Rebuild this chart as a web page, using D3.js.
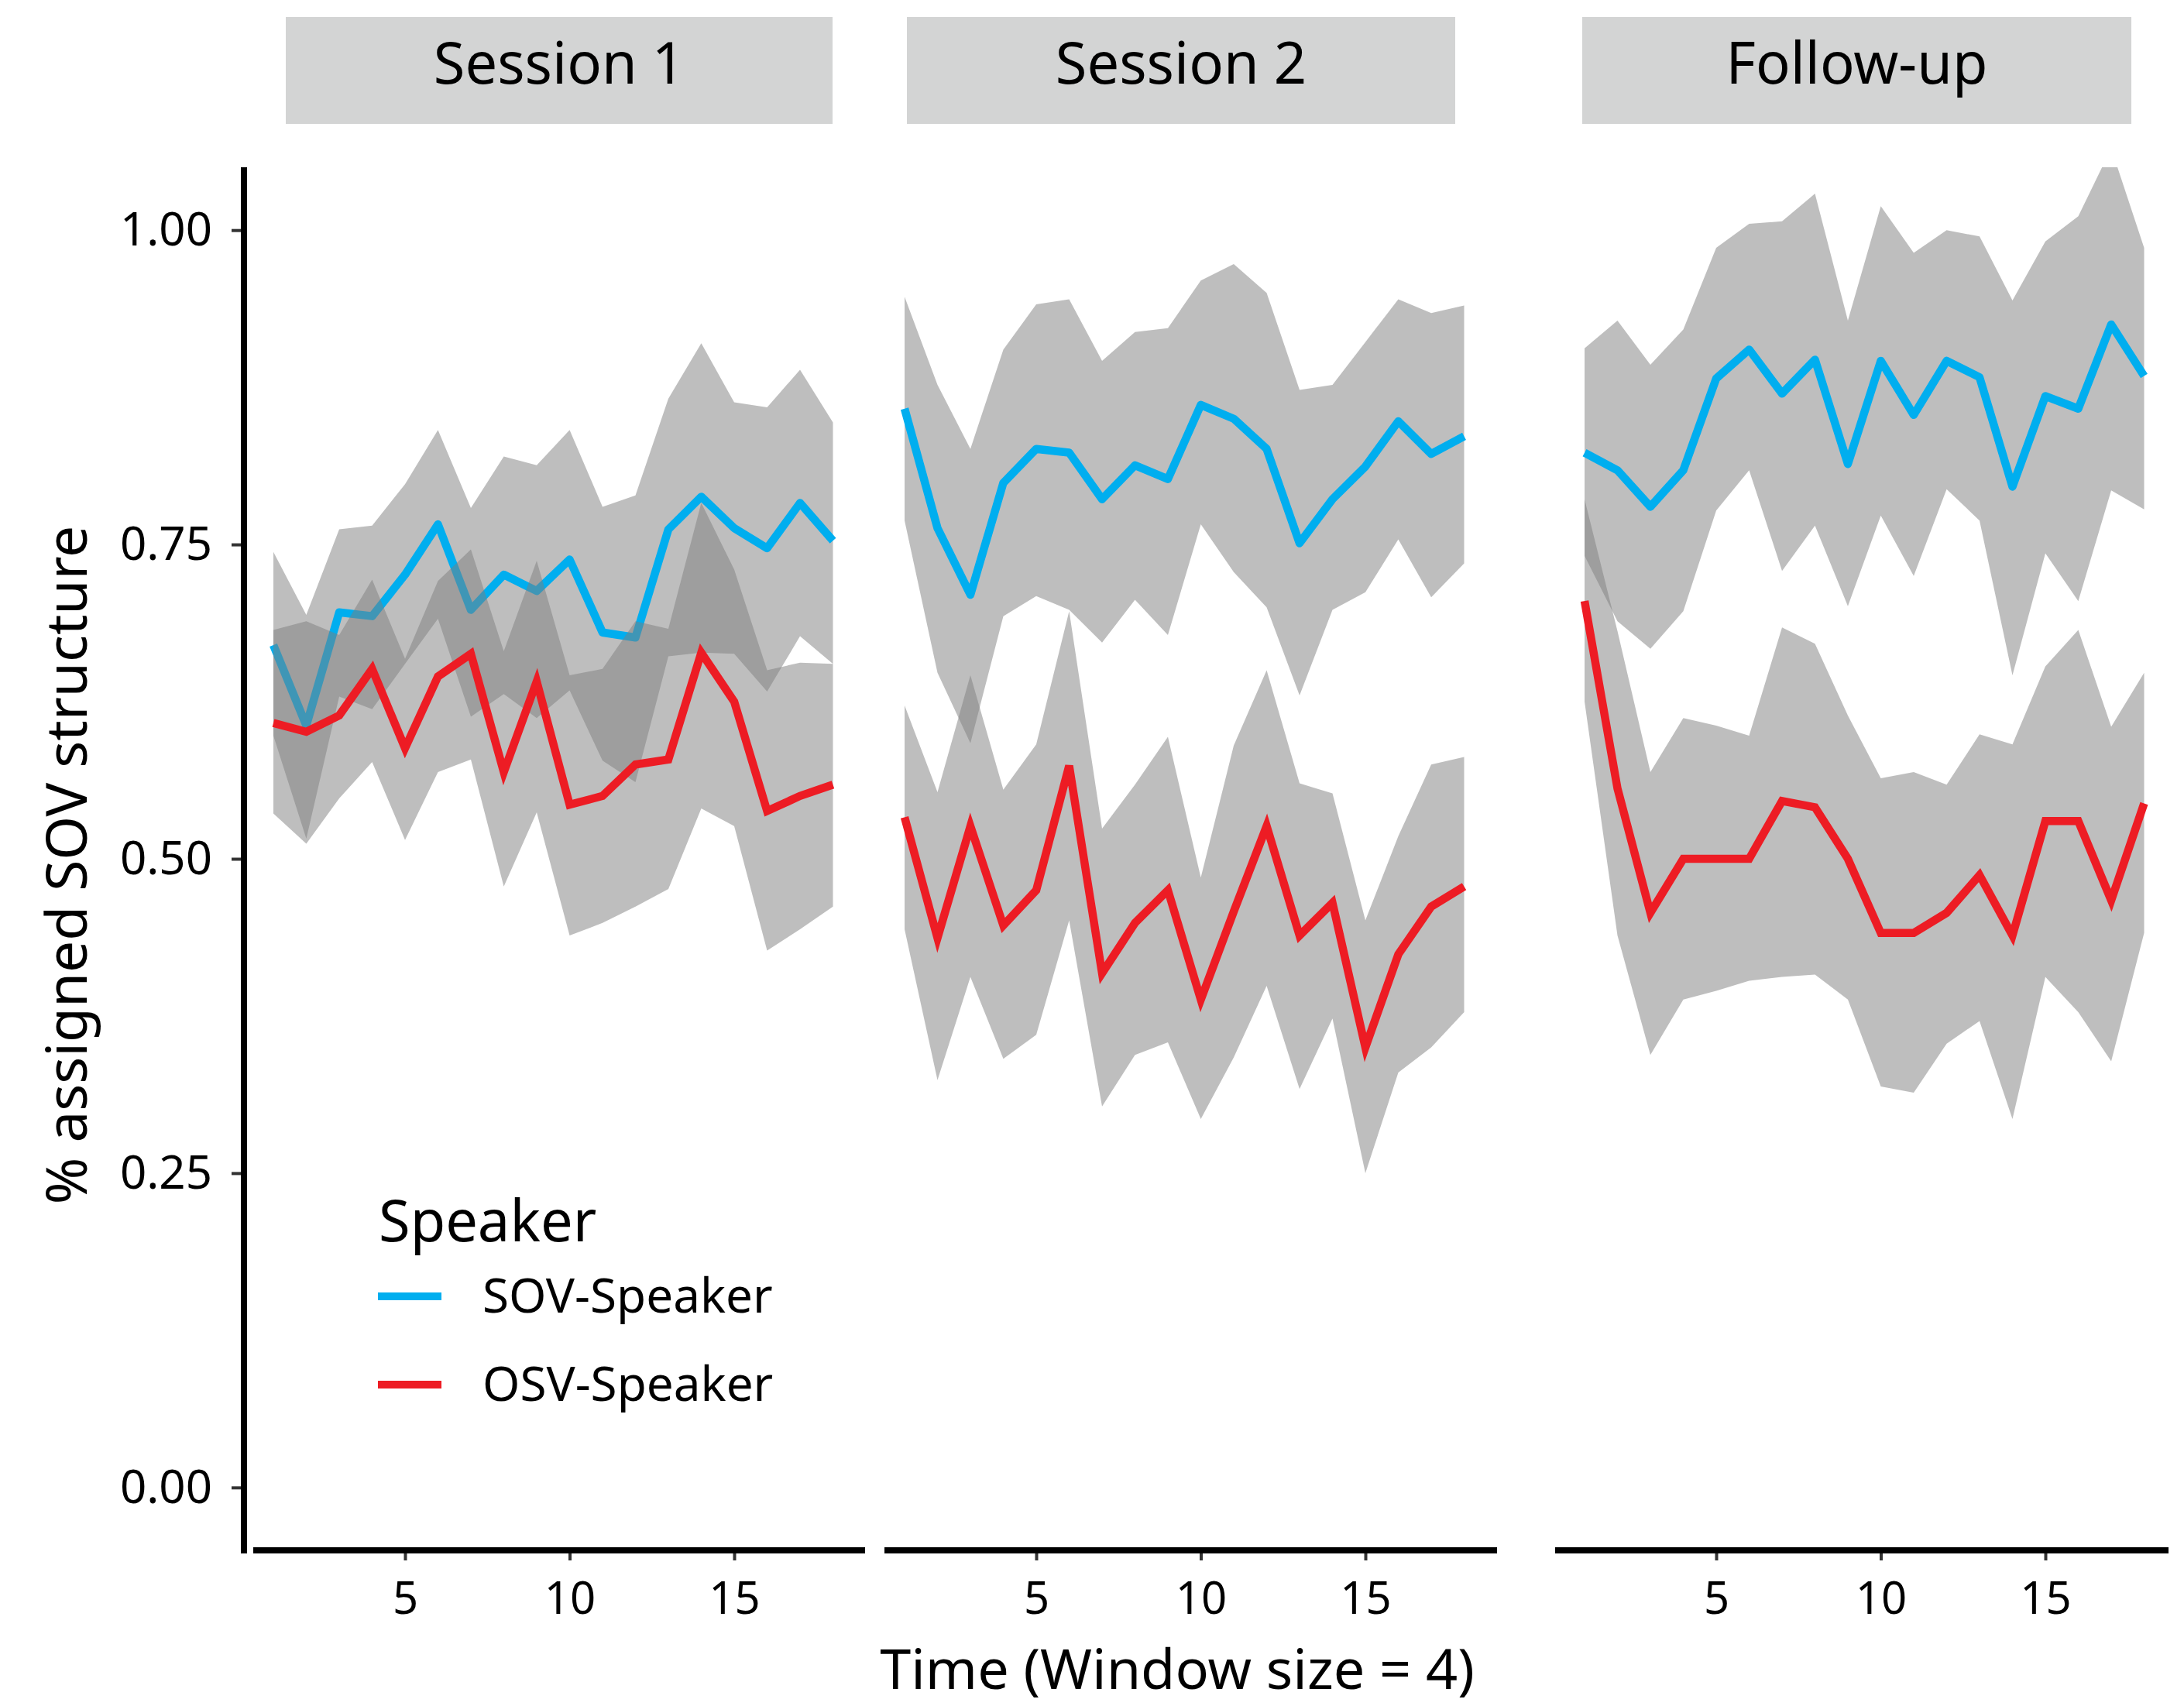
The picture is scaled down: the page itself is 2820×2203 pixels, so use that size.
<!DOCTYPE html>
<meta charset="utf-8">
<head>
  <title>% assigned SOV structure</title>
</head>
<style>
  body { margin: 0; background: #fff; }
  text { font-family: "Noto Sans", sans-serif; }
</style>

<!-- Load d3.js -->
<script src="https://d3js.org/d3.v7.min.js"></script>

<div id="chart"></div>

<script>
  // time windows
  var time = [1, 2, 3, 4, 5, 6, 7, 8, 9, 10, 11, 12, 13, 14, 15, 16, 17, 18];
  var sessions = ["Session 1", "Session 2", "Follow-up"];
  var speakers = ["SOV-Speaker", "OSV-Speaker"];
  var yTicks = [0, 0.25, 0.5, 0.75, 1];
  var xTicks = [5, 10, 15];

  // Session 1
  var s1SovMean = [0.670, 0.606, 0.696, 0.693, 0.726, 0.766, 0.698, 0.726, 0.713, 0.738, 0.680, 0.676, 0.762, 0.788, 0.763, 0.747, 0.783, 0.753];
  var s1SovLow  = [0.598, 0.516, 0.629, 0.619, 0.655, 0.691, 0.613, 0.631, 0.612, 0.634, 0.578, 0.561, 0.661, 0.664, 0.663, 0.633, 0.677, 0.655];
  var s1SovHigh = [0.744, 0.694, 0.762, 0.765, 0.798, 0.841, 0.779, 0.820, 0.813, 0.841, 0.780, 0.789, 0.866, 0.910, 0.863, 0.859, 0.889, 0.847];
  var s1OsvMean = [0.608, 0.601, 0.614, 0.651, 0.588, 0.645, 0.663, 0.569, 0.641, 0.543, 0.550, 0.575, 0.579, 0.664, 0.625, 0.538, 0.550, 0.559];
  var s1OsvLow  = [0.536, 0.512, 0.548, 0.577, 0.515, 0.569, 0.579, 0.478, 0.537, 0.439, 0.449, 0.462, 0.476, 0.540, 0.526, 0.427, 0.444, 0.462];
  var s1OsvHigh = [0.682, 0.689, 0.678, 0.722, 0.659, 0.721, 0.746, 0.665, 0.737, 0.646, 0.651, 0.689, 0.683, 0.783, 0.730, 0.650, 0.656, 0.655];

  // Session 2
  var s2SovMean = [0.858, 0.763, 0.710, 0.799, 0.826, 0.823, 0.786, 0.813, 0.802, 0.861, 0.850, 0.826, 0.751, 0.786, 0.812, 0.848, 0.822, 0.836];
  var s2SovLow  = [0.769, 0.648, 0.592, 0.693, 0.709, 0.698, 0.672, 0.706, 0.678, 0.766, 0.728, 0.700, 0.630, 0.698, 0.712, 0.754, 0.708, 0.735];
  var s2SovHigh = [0.947, 0.877, 0.826, 0.905, 0.941, 0.945, 0.896, 0.919, 0.922, 0.960, 0.973, 0.950, 0.873, 0.877, 0.911, 0.945, 0.934, 0.940];
  var s2OsvMean = [0.533, 0.437, 0.526, 0.447, 0.475, 0.574, 0.409, 0.449, 0.475, 0.388, 0.458, 0.526, 0.439, 0.465, 0.350, 0.424, 0.462, 0.478];
  var s2OsvLow  = [0.444, 0.324, 0.406, 0.341, 0.360, 0.451, 0.303, 0.344, 0.354, 0.293, 0.342, 0.399, 0.317, 0.373, 0.250, 0.330, 0.350, 0.378];
  var s2OsvHigh = [0.622, 0.553, 0.646, 0.555, 0.591, 0.697, 0.524, 0.559, 0.597, 0.485, 0.590, 0.650, 0.560, 0.552, 0.451, 0.518, 0.575, 0.581];

  // Follow-up
  var s3SovMean = [0.823, 0.809, 0.780, 0.809, 0.882, 0.905, 0.870, 0.897, 0.814, 0.896, 0.853, 0.896, 0.883, 0.796, 0.868, 0.858, 0.925, 0.884];
  var s3SovLow  = [0.741, 0.689, 0.667, 0.697, 0.777, 0.809, 0.729, 0.765, 0.701, 0.773, 0.725, 0.794, 0.769, 0.646, 0.743, 0.705, 0.793, 0.778];
  var s3SovHigh = [0.906, 0.928, 0.893, 0.921, 0.986, 1.005, 1.007, 1.029, 0.928, 1.019, 0.982, 1.000, 0.995, 0.944, 0.991, 1.011, 1.065, 0.986];
  var s3OsvMean = [0.705, 0.556, 0.457, 0.500, 0.500, 0.500, 0.546, 0.541, 0.500, 0.441, 0.441, 0.457, 0.487, 0.439, 0.530, 0.530, 0.467, 0.544];
  var s3OsvLow  = [0.625, 0.439, 0.344, 0.388, 0.395, 0.403, 0.406, 0.408, 0.388, 0.319, 0.314, 0.353, 0.371, 0.293, 0.406, 0.378, 0.339, 0.441];
  var s3OsvHigh = [0.786, 0.681, 0.569, 0.612, 0.606, 0.598, 0.684, 0.671, 0.614, 0.564, 0.569, 0.559, 0.599, 0.591, 0.653, 0.682, 0.605, 0.648];

  // [session][speaker] -> [mean, low, high]
  var series = [
    [[s1SovMean, s1SovLow, s1SovHigh], [s1OsvMean, s1OsvLow, s1OsvHigh]],
    [[s2SovMean, s2SovLow, s2SovHigh], [s2OsvMean, s2OsvLow, s2OsvHigh]],
    [[s3SovMean, s3SovLow, s3SovHigh], [s3OsvMean, s3OsvLow, s3OsvHigh]]
  ];

  var colors = ["#00AEEF", "#ED1C24"];
  var joins = ["round", "miter"];

  var width = 2820, height = 2203;
  var yTop = 216, yBottom = 2002;

  // panel layout (axis line extent, first data point, strip extent)
  var panels = [
    { left: 327, right: 1117, x1: 353, stripL: 369, stripR: 1075 },
    { left: 1142, right: 1933, x1: 1168, stripL: 1171, stripR: 1879 },
    { left: 2008, right: 2800, x1: 2046, stripL: 2043, stripR: 2752 }
  ];
  var step = 42.5;

  var svg = d3.select("#chart")
    .append("svg")
    .attr("width", width)
    .attr("height", height);

  svg.append("rect")
    .attr("width", width)
    .attr("height", height)
    .attr("fill", "#fff");

  var y = d3.scaleLinear()
    .domain([-0.05, 1.05])
    .range([yBottom, yTop]);

  var defs = svg.append("defs");

  panels.forEach(function(p, i) {
    var x = d3.scaleLinear()
      .domain([time[0], time[time.length - 1]])
      .range([p.x1, p.x1 + (time.length - 1) * step]);

    // strip
    svg.append("rect")
      .attr("x", p.stripL)
      .attr("y", 22)
      .attr("width", p.stripR - p.stripL)
      .attr("height", 138)
      .attr("fill", "#D3D4D4");
    svg.append("text")
      .attr("x", (p.stripL + p.stripR) / 2)
      .attr("y", 108)
      .attr("text-anchor", "middle")
      .style("font-size", "74px")
      .attr("fill", "#000")
      .text(sessions[i]);

    defs.append("clipPath")
      .attr("id", "clip" + i)
      .append("rect")
      .attr("x", p.left)
      .attr("y", yTop)
      .attr("width", p.right - p.left)
      .attr("height", yBottom - yTop);

    var g = svg.append("g").attr("clip-path", "url(#clip" + i + ")");

    speakers.forEach(function(sp, k) {
      var s = series[i][k];
      var rows = time.map(function(t, j) {
        return { t: t, mean: s[0][j], lo: s[1][j], hi: s[2][j] };
      });

      var area = d3.area()
        .x(function(d) { return x(d.t); })
        .y0(function(d) { return y(d.lo); })
        .y1(function(d) { return y(d.hi); });

      var line = d3.line()
        .x(function(d) { return x(d.t); })
        .y(function(d) { return y(d.mean); });

      g.append("path")
        .datum(rows)
        .attr("d", area)
        .attr("fill", "#7D7D7D")
        .attr("fill-opacity", 0.5);

      g.append("path")
        .datum(rows)
        .attr("d", line)
        .attr("fill", "none")
        .attr("stroke", colors[k])
        .attr("stroke-width", 10.5)
        .attr("stroke-linejoin", joins[k]);
    });

    // x axis
    var xa = svg.append("g")
      .attr("transform", "translate(0," + yBottom + ")")
      .call(d3.axisBottom(x).tickValues(xTicks).tickSize(13).tickPadding(28));
    xa.select(".domain").remove();
    xa.selectAll(".tick line").attr("stroke", "#333").attr("stroke-width", 4);
    xa.selectAll(".tick text")
      .attr("fill", "#000")
      .style("font-family", "Noto Sans")
      .style("font-size", "58px");

    svg.append("line")
      .attr("x1", p.left)
      .attr("x2", p.right)
      .attr("y1", yBottom)
      .attr("y2", yBottom)
      .attr("stroke", "#000")
      .attr("stroke-width", 8);
  });

  // y axis
  var ya = svg.append("g")
    .attr("transform", "translate(311,0)")
    .call(d3.axisLeft(y).tickValues(yTicks).tickFormat(d3.format(".2f")).tickSize(12).tickPadding(25));
  ya.select(".domain").remove();
  ya.selectAll(".tick line").attr("stroke", "#333").attr("stroke-width", 4);
  ya.selectAll(".tick text")
    .attr("fill", "#000")
    .style("font-family", "Noto Sans")
    .style("font-size", "60px");

  svg.append("line")
    .attr("x1", 315)
    .attr("x2", 315)
    .attr("y1", yTop)
    .attr("y2", yBottom + 4)
    .attr("stroke", "#000")
    .attr("stroke-width", 8);

  // axis titles
  svg.append("text")
    .attr("x", 1520)
    .attr("y", 2181)
    .attr("text-anchor", "middle")
    .style("font-size", "72px")
    .text("Time (Window size = 4)");

  svg.append("text")
    .attr("transform", "translate(112,1117) rotate(-90)")
    .attr("text-anchor", "middle")
    .style("font-size", "73px")
    .text("% assigned SOV structure");

  // legend
  svg.append("text")
    .attr("x", 489)
    .attr("y", 1603)
    .style("font-size", "74px")
    .text("Speaker");

  var legendY = [1674, 1788];
  speakers.forEach(function(sp, k) {
    svg.append("line")
      .attr("x1", 488)
      .attr("x2", 570)
      .attr("y1", legendY[k])
      .attr("y2", legendY[k])
      .attr("stroke", colors[k])
      .attr("stroke-width", 10);
    svg.append("text")
      .attr("x", 623)
      .attr("y", legendY[k] + 21)
      .style("font-size", "62px")
      .text(sp);
  });
</script>
